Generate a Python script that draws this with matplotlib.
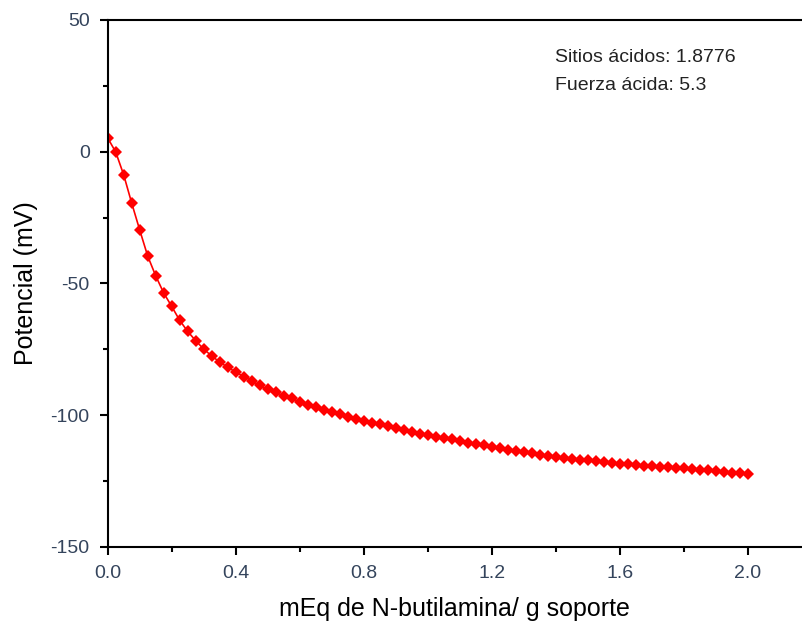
import numpy as np
import matplotlib.pyplot as plt
from matplotlib.ticker import MultipleLocator

# titration data: mEq of n-butylamine per g vs. potential
mEq = np.arange(81) * 0.025
potencial = [
    5.2, -0.1, -8.8, -19.5, -29.7, -39.6, -47.1, -53.6, -58.7, -64.0,
    -68.2, -71.7, -74.9, -77.5, -79.8, -81.8, -83.6, -85.3, -86.9, -88.7,
    -90.2, -91.3, -92.6, -93.6, -94.9, -96.0, -97.0, -98.0, -98.9, -99.7,
    -100.5, -101.4, -102.2, -102.8, -103.5, -104.2, -104.9, -105.5, -106.2, -107.0,
    -107.5, -108.2, -108.8, -109.2, -109.8, -110.4, -110.9, -111.4, -111.9, -112.3,
    -113.1, -113.5, -113.8, -114.3, -115.0, -115.4, -115.9, -116.3, -116.6, -116.9,
    -117.1, -117.5, -117.9, -118.1, -118.5, -118.6, -118.9, -119.1, -119.3, -119.5,
    -119.8, -119.9, -120.1, -120.4, -120.6, -120.9, -121.3, -121.6, -121.8, -122.0,
    -122.3,
]
info_lines = ["Sitios ácidos: 1.8776", "Fuerza ácida: 5.3"]

plt.rcParams['font.family'] = ['Liberation Sans', 'DejaVu Sans']

W, H = 802, 624
fig = plt.figure(figsize=(W / 100, H / 100), dpi=100)
ax = fig.add_axes([0.1343, 0.1234, 0.8657, 0.8446])

ax.plot(mEq, potencial, color='red', lw=1.2, marker='D', markersize=6,
        markeredgewidth=0)

ax.set_xlim(0, 2.17)
ax.set_ylim(-150, 50)
ax.xaxis.set_major_locator(MultipleLocator(0.4))
ax.xaxis.set_minor_locator(MultipleLocator(0.2))
ax.yaxis.set_major_locator(MultipleLocator(50))
ax.yaxis.set_minor_locator(MultipleLocator(25))
ax.xaxis.set_major_formatter(plt.FuncFormatter(lambda v, p: f"{v:.1f}"))
ax.yaxis.set_major_formatter(plt.FuncFormatter(lambda v, p: f"{v:.0f}"))

for s in ax.spines.values():
    s.set_linewidth(1.5)
ax.spines['right'].set_visible(False)

ax.tick_params(which='major', direction='out', length=6, width=1.5,
               labelsize=14, labelcolor='#34445c', pad=7)
ax.tick_params(which='minor', direction='out', length=3.5, width=1.5)

ax.set_xlabel("mEq de N-butilamina/ g soporte", fontsize=18, labelpad=11)
ax.set_ylabel("Potencial (mV)", fontsize=18, labelpad=9)

# text block in the upper right, placed in pixel terms from the top-left
fig.text(555 / W, 1 - 57 / H, info_lines[0], fontsize=14,
         color='#222222', va='center')
fig.text(555 / W, 1 - 86 / H, info_lines[1], fontsize=14,
         color='#222222', va='center')

fig.savefig("out.png", dpi=100)
